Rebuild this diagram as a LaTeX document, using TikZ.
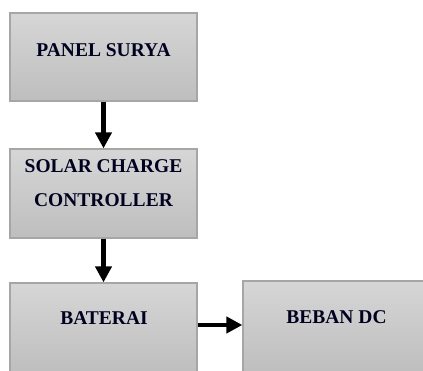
\documentclass[tikz,border=0pt]{standalone}
\usepackage{fontspec}
\setmainfont{Liberation Serif}
\usepackage{xcolor}
\usetikzlibrary{arrows.meta,positioning}
\definecolor{blokatas}{HTML}{D6D6D6}
\definecolor{blokbawah}{HTML}{BEBEBE}
\definecolor{bloktepi}{HTML}{A6A6A6}

\begin{document}
\begin{tikzpicture}[x=1pt,y=1pt,
    blok/.style={draw=bloktepi,line width=1.2pt,top color=blokatas,bottom color=blokbawah,
      minimum width=187pt,minimum height=89pt,inner sep=0pt},
    teks/.style={font=\fontsize{19.5}{34}\selectfont\bfseries,text=black!88!blue,align=center,inner sep=0pt},
    panah/.style={-{Triangle[length=16pt,width=16pt]},line width=4.5pt,black}]
    \useasboundingbox (0,0) rectangle (423,371);
    % kotak
    \node[blok,minimum height=88pt] (panel) at (103.5,314) {};
    \node[blok] (scc) at (103.5,177.5) {};
    \node[blok,minimum height=90pt] (baterai) at (103.5,43) {};
    \node[blok,minimum width=182pt,minimum height=92pt] (beban) at (334,44) {};
    % teks
    \node[teks] (tpanel) at (103.5,321) {PANEL SURYA};
    \node[teks] (tscc) at (103.5,188) {SOLAR CHARGE\\CONTROLLER};
    \node[teks] (tbaterai) at (104,53) {BATERAI};
    \node[teks] (tbeban) at (336.5,54) {BEBAN DC};
    % panah
    \draw[panah] (panel.south) -- (scc.north);
    \draw[panah] (scc.south) -- (baterai.north);
    \draw[panah] ([yshift=3pt]baterai.east) -- ([yshift=3pt]baterai.east -| beban.west);
\end{tikzpicture}
\end{document}
